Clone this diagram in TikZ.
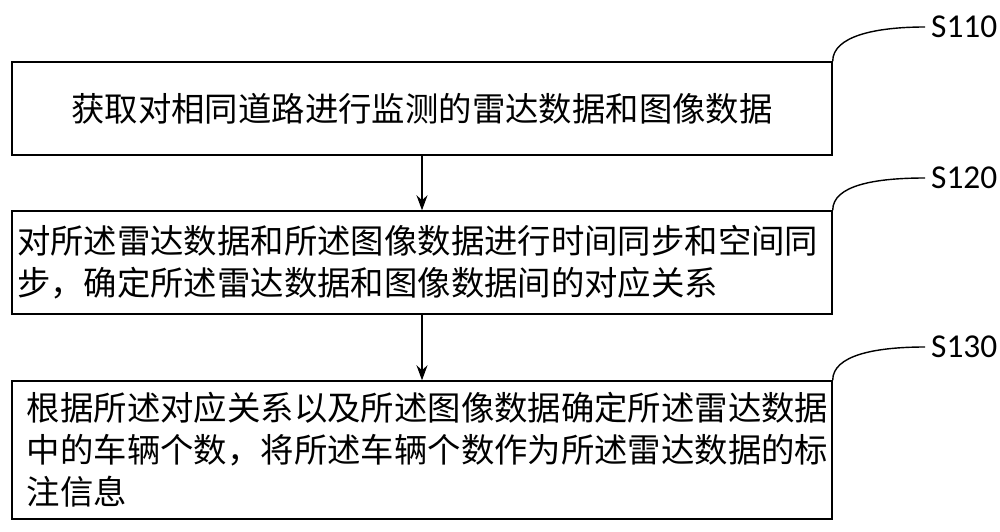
\documentclass[tikz,border=0pt]{standalone}
\usepackage{fontspec}
\setmainfont{Noto Sans CJK SC}
\newfontfamily\labelfont{Carlito}
\usetikzlibrary{arrows.meta,positioning}

\begin{document}
\begin{tikzpicture}[
  > = {Stealth[length=3mm,width=2.2mm]},
  stepbox/.style = {rectangle, draw, line width=0.8pt, minimum width=16.4cm,
                    inner sep=0pt, font=\fontsize{19}{24}\selectfont},
  steplabel/.style = {font=\labelfont\fontsize{19}{22}\selectfont, anchor=west}
]
\useasboundingbox (0,0) rectangle (20,10.62);

\node[stepbox, minimum height=1.86cm, align=center] (s1) at (8.44,8.45)
  {获取对相同道路进行监测的雷达数据和图像数据};
\node[stepbox, minimum height=2.06cm, text width=16.2cm, align=left] (s2) at (8.44,5.37)
  {对所述雷达数据和所述图像数据进行时间同步和空间同\\步，确定所述雷达数据和图像数据间的对应关系};
\node[stepbox, minimum height=2.76cm, text width=15.8cm, align=left] (s3) at (8.44,1.62)
  {根据所述对应关系以及所述图像数据确定所述雷达数据\\中的车辆个数，将所述车辆个数作为所述雷达数据的标\\注信息};

\node[steplabel] (l1) at (18.5,10.08) {S110};
\node[steplabel] (l2) at (18.5,7.06) {S120};
\node[steplabel] (l3) at (18.5,3.68) {S130};

\draw[->, line width=0.8pt] (s1) -- (s2);
\draw[->, line width=0.8pt] (s2) -- (s3);

\foreach \b/\l in {s1/l1, s2/l2, s3/l3}
  \draw[line width=0.8pt] (\b.north east) .. controls ([yshift=0.5cm]\b.north east) and ([xshift=-1cm]\l.west) .. (\l.west);
\end{tikzpicture}
\end{document}
